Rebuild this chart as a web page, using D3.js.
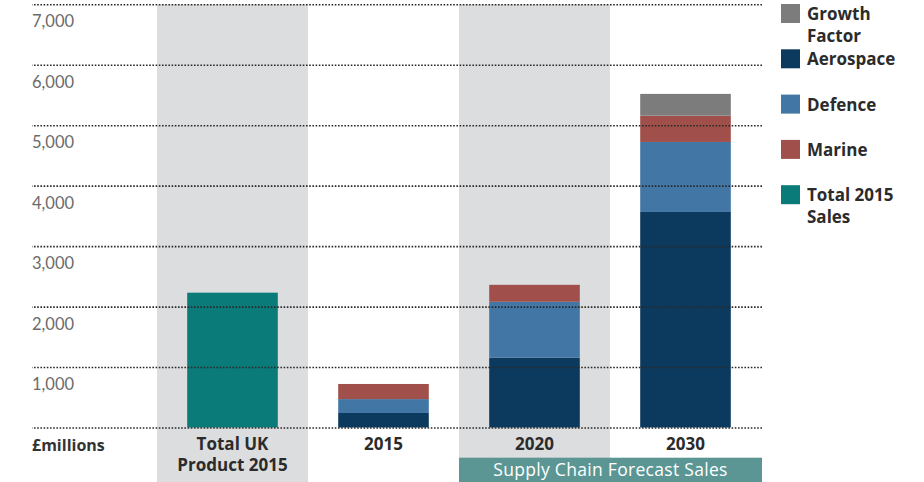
<!DOCTYPE html>
<html><head><meta charset="utf-8">
<script src="https://cdn.jsdelivr.net/npm/d3@7"></script>
<style>
html,body{margin:0;padding:0;background:#fff;}
svg{display:block;font-family:"Open Sans",Lato,sans-serif;}
</style></head>
<body><svg id="c" width="924" height="482"></svg>
<script>
const categories = ["Total UK Product 2015", "2015", "2020", "2030"];
const categoryLines = [["Total UK", "Product 2015"], ["2015"], ["2020"], ["2030"]];
const aerospace = [0, 240, 1155, 3565];
const defence = [0, 230, 925, 1158];
const marine = [0, 250, 280, 435];
const growth = [0, 0, 0, 360];
const total2015 = [2230, 0, 0, 0];
const tickValues = [0, 1000, 2000, 3000, 4000, 5000, 6000, 7000];
const tickLabels = ["£millions", "1,000", "2,000", "3,000", "4,000", "5,000", "6,000", "7,000"];
const shadedCategories = ["Total UK Product 2015", "2020"];
const legendKeys = ["Growth Factor", "Aerospace", "Defence", "Marine", "Total 2015 Sales"];
const legendLines = [["Growth", "Factor"], ["Aerospace"], ["Defence"], ["Marine"], ["Total 2015", "Sales"]];
const groupLabel = "Supply Chain Forecast Sales";

const colors = {
  "Growth Factor": "#7b7c7b",
  "Aerospace": "#0b3a5e",
  "Defence": "#4276a4",
  "Marine": "#a04f4a",
  "Total 2015 Sales": "#0a7b78"
};

const svg = d3.select("#c");
const x = d3.scaleBand().domain(categories).range([157, 761]).padding(0);
const y = d3.scaleLinear().domain([0, 7000]).range([427.5, 4.3]);
const barW = x.bandwidth() * 0.6;
const barOff = (x.bandwidth() - barW) / 2;

// shaded bands
svg.append("g").selectAll("rect").data(shadedCategories).join("rect")
  .attr("x", d => x(d)).attr("width", x.bandwidth())
  .attr("y", y(7000)).attr("height", 482 - y(7000))
  .attr("fill", "#dcdddf");

// data table for stacking
const table = categories.map((c, i) => ({
  cat: c,
  "Aerospace": aerospace[i],
  "Defence": defence[i],
  "Marine": marine[i],
  "Growth Factor": growth[i],
  "Total 2015 Sales": total2015[i]
}));
const stackKeys = ["Total 2015 Sales", "Aerospace", "Defence", "Marine", "Growth Factor"];
const stacked = d3.stack().keys(stackKeys)(table);

svg.append("g").selectAll("g").data(stacked).join("g")
  .attr("fill", s => colors[s.key])
  .selectAll("rect").data(s => s.filter(d => d[1] - d[0] > 0)).join("rect")
  .attr("x", d => x(d.data.cat) + barOff)
  .attr("width", barW)
  .attr("y", d => y(d[1]))
  .attr("height", d => y(d[0]) - y(d[1]));

// gridlines + tick labels
const gridLeft = 32, gridRight = 762;
const axis = d3.axisLeft(y).tickValues(tickValues).tickSize(gridRight - gridLeft).tickFormat((d, i) => tickLabels[i]);
const ag = svg.append("g").attr("transform", `translate(${gridRight},0)`).call(axis);
ag.select(".domain").remove();
ag.selectAll(".tick line")
  .attr("stroke", "#2a2a2a").attr("stroke-width", 1.6)
  .attr("stroke-dasharray", "1.6,1.6");
ag.selectAll(".tick text")
  .attr("x", -(gridRight - gridLeft)).attr("dy", 0).attr("y", 22.5)
  .attr("text-anchor", "start")
  .attr("font-family", (d, i) => i === 0 ? "'Open Sans', sans-serif" : "Lato, sans-serif")
  .attr("font-size", (d, i) => i === 0 ? 16 : 16.5)
  .attr("fill", (d, i) => i === 0 ? "#333" : "#6b6b6b")
  .attr("font-weight", (d, i) => i === 0 ? "bold" : "normal");

// category labels
const cl = svg.append("g").selectAll("text").data(categories).join("text")
  .attr("x", d => x(d) + x.bandwidth() / 2)
  .attr("y", 450)
  .attr("text-anchor", "middle")
  .attr("font-size", 17).attr("font-weight", "bold").attr("fill", "#2b2b2b");
cl.selectAll("tspan").data((d, i) => categoryLines[i]).join("tspan")
  .attr("x", function () { return d3.select(this.parentNode).attr("x"); })
  .attr("dy", (d, j) => j === 0 ? 0 : 21)
  .text(d => d);

// group label box
const gx0 = x("2020"), gx1 = x("2030") + x.bandwidth() + 1;
svg.append("rect").attr("x", gx0).attr("y", 457.7).attr("width", gx1 - gx0).attr("height", 482 - 457.7)
  .attr("fill", "#5b9694");
svg.append("text").attr("x", (gx0 + gx1) / 2).attr("y", 476)
  .attr("text-anchor", "middle").attr("font-size", 17.5).attr("fill", "#fff")
  .attr("font-weight", 500).attr("letter-spacing", 0.3)
  .text(groupLabel);

// legend
const lg = svg.append("g").selectAll("g").data(legendKeys).join("g")
  .attr("transform", (d, i) => `translate(781,${4 + i * 45.3})`);
lg.append("rect").attr("width", 19).attr("height", 19).attr("fill", d => colors[d]);
const lt = lg.append("text").attr("x", 26).attr("y", 16)
  .attr("font-size", 17).attr("font-weight", "bold").attr("fill", "#2b2b2b");
lt.selectAll("tspan").data((d, i) => legendLines[i]).join("tspan")
  .attr("x", 26).attr("dy", (d, j) => j === 0 ? 0 : 21.5).text(d => d);
</script></body></html>
